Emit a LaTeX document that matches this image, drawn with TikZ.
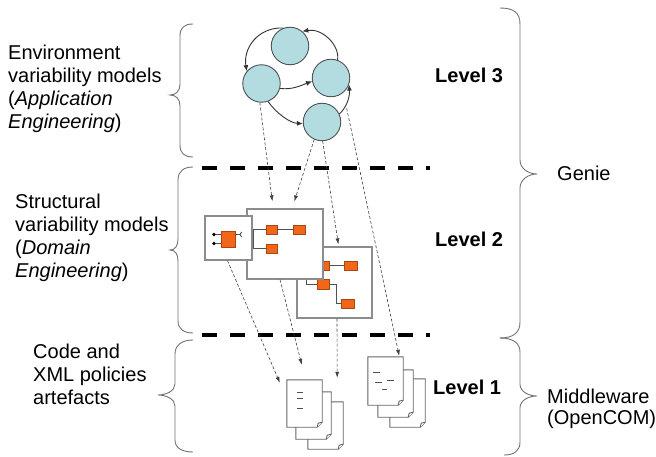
\documentclass[tikz,border=0pt]{standalone}
\usepackage{fontspec}
\setmainfont{Liberation Sans}
\usetikzlibrary{arrows.meta,calc}
\definecolor{tealfill}{RGB}{178,220,224}
\definecolor{orng}{RGB}{242,102,26}
\definecolor{orngd}{RGB}{170,70,20}
\definecolor{boxgray}{RGB}{140,140,140}
\definecolor{linegray}{RGB}{80,80,80}
\newcommand\docpage[1]{%
  \draw[pageline] (#1.north west) -- (#1.north east) -- ([yshift=5pt]#1.south east) -- ([xshift=-5pt]#1.south east) -- (#1.south west) -- cycle;
  \draw[pageline] ([yshift=5pt]#1.south east) -- ([xshift=-4pt,yshift=4pt]#1.south east) -- ([xshift=-5pt]#1.south east);}
\begin{document}
\begin{tikzpicture}[x=1pt,y=-1pt,
 lbl/.style={font=\fontsize{20pt}{23pt}\selectfont, align=left, anchor=west, inner sep=0pt},
 mwl/.style={font=\fontsize{20pt}{20.5pt}\selectfont, align=left, anchor=west, inner sep=0pt},
 lvl/.style={font=\fontsize{20pt}{23pt}\selectfont\bfseries, anchor=west, inner sep=0pt},
 circ/.style={circle, draw=linegray, fill=tealfill, line width=0.9pt, minimum size=37.5pt, inner sep=0pt},
 modbox/.style={draw=boxgray, fill=white, line width=1.3pt, inner sep=0pt},
 comp/.style={draw=orngd, fill=orng, line width=0.6pt, inner sep=0pt},
 wire/.style={draw=linegray, line width=0.9pt},
 dotn/.style={circle, fill=black, minimum size=3.6pt, inner sep=0pt},
 pagebox/.style={inner sep=0pt, minimum width=35pt, minimum height=47pt},
 pageline/.style={draw=black!60, fill=white, line width=0.9pt},
 flow/.style={draw=black!80, line width=0.9pt, -{Latex[length=6pt,width=5pt]}},
 trace/.style={draw=black!75, line width=0.6pt, dash pattern=on 3pt off 2pt, -{Latex[length=6pt,width=4pt]}},
 sep/.style={line width=4pt, dash pattern=on 15pt off 13pt},
 brace/.style={draw=black!55, line width=0.9pt},
]
\useasboundingbox[fill=white] (0,0) rectangle (656,457);

% ---- left labels
\node[lbl] (t1) at (8,89) {Environment\\variability models\\(\textit{Application}\\\textit{Engineering})};
\node[lbl] (t2) at (15,238) {Structural\\variability models\\(\textit{Domain}\\\textit{Engineering})};
\node[lbl] (t3) at (33,374) {Code and\\XML policies\\artefacts};

% ---- left braces
\draw[brace] (193,24) .. controls (184,24) and (180,28) .. (180,36) -- (180,84)
  .. controls (180,91) and (176,95) .. (170,95) .. controls (176,95) and (180,99) .. (180,106)
  -- (180,145) .. controls (180,153) and (184,157) .. (193,157);
\draw[brace] (193,167) .. controls (184,167) and (178,171) .. (178,180) -- (178,239)
  .. controls (178,246) and (175,250) .. (170,250) .. controls (175,250) and (178,254) .. (178,261)
  -- (178,321) .. controls (178,329) and (184,333) .. (193,333);
\draw[brace] (193,340) .. controls (182,340) and (175,345) .. (175,354) -- (175,384)
  .. controls (175,391) and (166,395) .. (158,395) .. controls (166,395) and (175,399) .. (175,406)
  -- (175,440) .. controls (175,448) and (182,452) .. (193,452);

% ---- right braces
\draw[brace] (500,8) .. controls (514,8) and (520,13) .. (520,24) -- (520,160)
  .. controls (520,169) and (529,174) .. (537,174) .. controls (529,174) and (520,179) .. (520,188)
  -- (520,322) .. controls (520,333) and (513,338) .. (500,338);
\draw[brace] (500,338) .. controls (513,338) and (520,343) .. (520,352) -- (520,384)
  .. controls (520,392) and (529,396) .. (537,396) .. controls (529,396) and (520,400) .. (520,408)
  -- (520,442) .. controls (520,451) and (514,455) .. (504,455);

% ---- right labels
\node[lvl] (l3) at (435,75) {Level 3};
\node[lvl] (l2) at (435,239) {Level 2};
\node[lvl] (l1) at (433,387) {Level 1};
\node[lbl] (genie) at (557,173) {Genie};
\node[mwl] (mw) at (547,409) {Middleware\\(OpenCOM)};

% ---- level separators
\draw[sep] (202,168) -- (430,168);
\draw[sep] (202,335) -- (430,335);

% ---- level 3: environment variability model
\node[circ] (c1) at (290,46) {};
\node[circ] (c2) at (261.5,83.5) {};
\node[circ] (c3) at (331,78) {};
\node[circ] (c4) at (322,122) {};
\draw[flow] (c1.110) .. controls (258,27) and (243,48) .. (c2.140);
\draw[flow] (c3.70) .. controls (340,45) and (322,28) .. (c1.50);
\draw[flow] (c2.-15) .. controls (293,90) and (302,85) .. (c3.190);
\draw[flow] (c2.-70) .. controls (276,113) and (290,123) .. (c4.185);
\draw[flow] (c4.25) .. controls (346,108) and (350,98) .. (c3.-20);

% ---- level 2: structural models
\node[modbox, minimum width=75pt, minimum height=71pt] (b3) at (334.5,282.5) {};
\node[comp, minimum width=12pt, minimum height=9pt] (r31) at (323,265.5) {};
\node[comp, minimum width=13pt, minimum height=9pt] (r32) at (350.5,265.5) {};
\node[comp, minimum width=12pt, minimum height=10pt] (r33) at (323.3,284.3) {};
\node[comp, minimum width=12.3pt, minimum height=9.7pt] (r34) at (347.8,303.8) {};
\draw[wire] (r31) -- (r32);
\draw[wire] (r33.west) -- ++(-11,0) -- ++(0,-12);
\draw[wire] (r33.east) -- ++(6.4,0) |- (r34.west);

\node[modbox, minimum width=76pt, minimum height=70pt] (b2) at (285,244) {};
\node[comp, minimum width=11pt, minimum height=9pt] (r21) at (271.5,229.5) {};
\node[comp, minimum width=12pt, minimum height=9pt] (r22) at (299,229.5) {};
\node[comp, minimum width=11pt, minimum height=9pt] (r23) at (271.5,248.5) {};
\draw[wire] (r21) -- (r22);
\draw[wire] (r21.west) -- ++(-12,0) |- (r23.west);

\node[modbox, minimum width=47pt, minimum height=44pt] (b1) at (228.5,238) {};
\node[comp, minimum width=14pt, minimum height=16pt] (r11) at (228,239) {};
\node[dotn] (p1) at (214,234.5) {};
\node[dotn] (p2) at (214,243.5) {};
\draw[wire] (p1) -- (r11.west |- p1);
\draw[wire] (p2) -- (r11.west |- p2);
\coordinate (sk) at ($(r11.east |- p1)+(4.5,0)$);
\draw[wire] (r11.east |- p1) -- (sk);
\draw[wire] ([shift={(2,-2.5)}]sk) -- (sk) -- ([shift={(2,2.5)}]sk);

% ---- level 1: artefacts
\node[pagebox] (d1c) at (325.5,425.5) {};
\node[pagebox] (d1b) at (313.5,415.5) {};
\node[pagebox] (d1a) at (304.5,403.5) {};
\docpage{d1c}\docpage{d1b}\docpage{d1a}
\draw[wire] (297,392) -- (303,392) (297,398.3) -- (303,398.3) (297,408.3) -- (303,408.3);

\node[pagebox, minimum height=48pt] (d2c) at (407.5,403) {};
\node[pagebox, minimum height=47pt] (d2b) at (395.5,393.5) {};
\node[pagebox, minimum height=48pt] (d2a) at (385.5,381) {};
\docpage{d2c}\docpage{d2b}\docpage{d2a}
\draw[wire] (373.3,372.7) -- (380,372.7) (375,382.7) -- (381.7,382.7) (386.7,380) -- (394,380) (381.7,389.3) -- (386.7,389.3);

% ---- traceability arrows
\draw[trace] (c2.-95) -- ([xshift=26pt,yshift=7pt]b2.north west);
\draw[trace] (c4.-114) -- ([xshift=48pt,yshift=7pt]b2.north west);
\draw[trace] (c4.-88) -- ([xshift=42pt,yshift=2pt]b3.north west);
\draw[trace, shorten <=16pt] (c3.-50) -- ([xshift=-4pt,yshift=1pt]d2a.north east);
\draw[trace] ([xshift=-1pt]b1.south) -- ([xshift=-7pt,yshift=-3pt]d1a.north west);
\draw[trace] ([xshift=-5pt]b2.south) -- ([xshift=15pt,yshift=15pt]d1a.north west);
\draw[trace] ([xshift=2.5pt]b3.south) -- ([xshift=-6pt,yshift=24pt]d1c.north east);
\end{tikzpicture}
\end{document}
